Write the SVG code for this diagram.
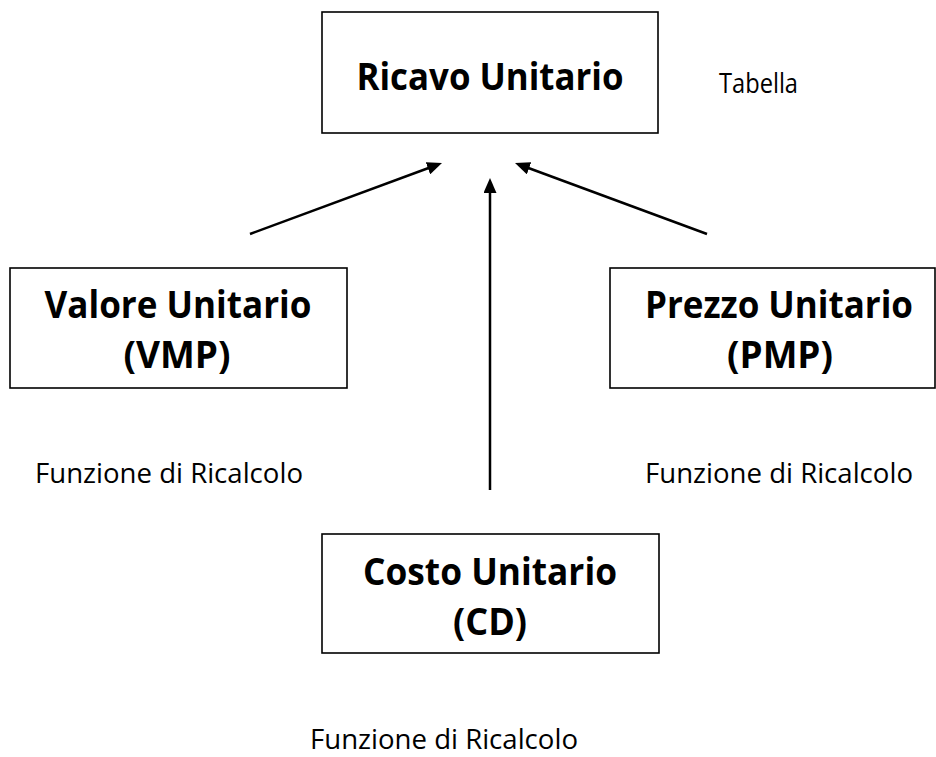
<svg xmlns="http://www.w3.org/2000/svg" width="936" height="757" viewBox="0 0 936 757">
<style>
.box{fill:#fff;stroke:#000;stroke-width:1.6}
.t{font-family:"Open Sans","Liberation Sans",sans-serif;font-weight:bold;font-size:38px;fill:#000;text-anchor:middle}
.r{font-family:"Open Sans","Liberation Sans",sans-serif;font-size:27px;fill:#000}
.c{stroke:#000;stroke-width:2.5;fill:none}
</style>
<defs>
<marker id="ah" markerUnits="userSpaceOnUse" markerWidth="16" markerHeight="13" refX="5" refY="6.5" orient="auto">
<path d="M0,0 L15,6.5 L0,13 z" fill="#000"/>
</marker>
</defs>
<g id="connectors">
<line class="c" x1="250" y1="234" x2="432.6" y2="166.5" marker-end="url(#ah)"/>
<line class="c" x1="490" y1="490" x2="490" y2="188" marker-end="url(#ah)"/>
<line class="c" x1="707" y1="234" x2="524.4" y2="166.5" marker-end="url(#ah)"/>
</g>
<g id="ricavo">
<rect class="box" x="322" y="12" width="336" height="121"/>
<text class="t" x="490" y="90" textLength="267" lengthAdjust="spacingAndGlyphs">Ricavo Unitario</text>
</g>
<g id="tabella">
<text class="r" x="719" y="93" textLength="79" lengthAdjust="spacingAndGlyphs">Tabella</text>
</g>
<g id="valore">
<rect class="box" x="10" y="268" width="337" height="120"/>
<text class="t" x="178" y="318" textLength="267" lengthAdjust="spacingAndGlyphs">Valore Unitario</text>
<text class="t" x="177" y="368" textLength="107" lengthAdjust="spacingAndGlyphs">(VMP)</text>
</g>
<g id="prezzo">
<rect class="box" x="610" y="268" width="325" height="120"/>
<text class="t" x="779" y="318" textLength="268" lengthAdjust="spacingAndGlyphs">Prezzo Unitario</text>
<text class="t" x="780" y="368" textLength="106" lengthAdjust="spacingAndGlyphs">(PMP)</text>
</g>
<g id="costo">
<rect class="box" x="322" y="534" width="337" height="119"/>
<text class="t" x="490" y="585" textLength="254" lengthAdjust="spacingAndGlyphs">Costo Unitario</text>
<text class="t" x="490" y="635" textLength="74" lengthAdjust="spacingAndGlyphs">(CD)</text>
</g>
<g id="label-left">
<text class="r" x="35" y="483" textLength="268" lengthAdjust="spacingAndGlyphs">Funzione di Ricalcolo</text>
</g>
<g id="label-right">
<text class="r" x="645" y="483" textLength="268" lengthAdjust="spacingAndGlyphs">Funzione di Ricalcolo</text>
</g>
<g id="label-bottom">
<text class="r" x="310" y="749" textLength="268" lengthAdjust="spacingAndGlyphs">Funzione di Ricalcolo</text>
</g>
</svg>
